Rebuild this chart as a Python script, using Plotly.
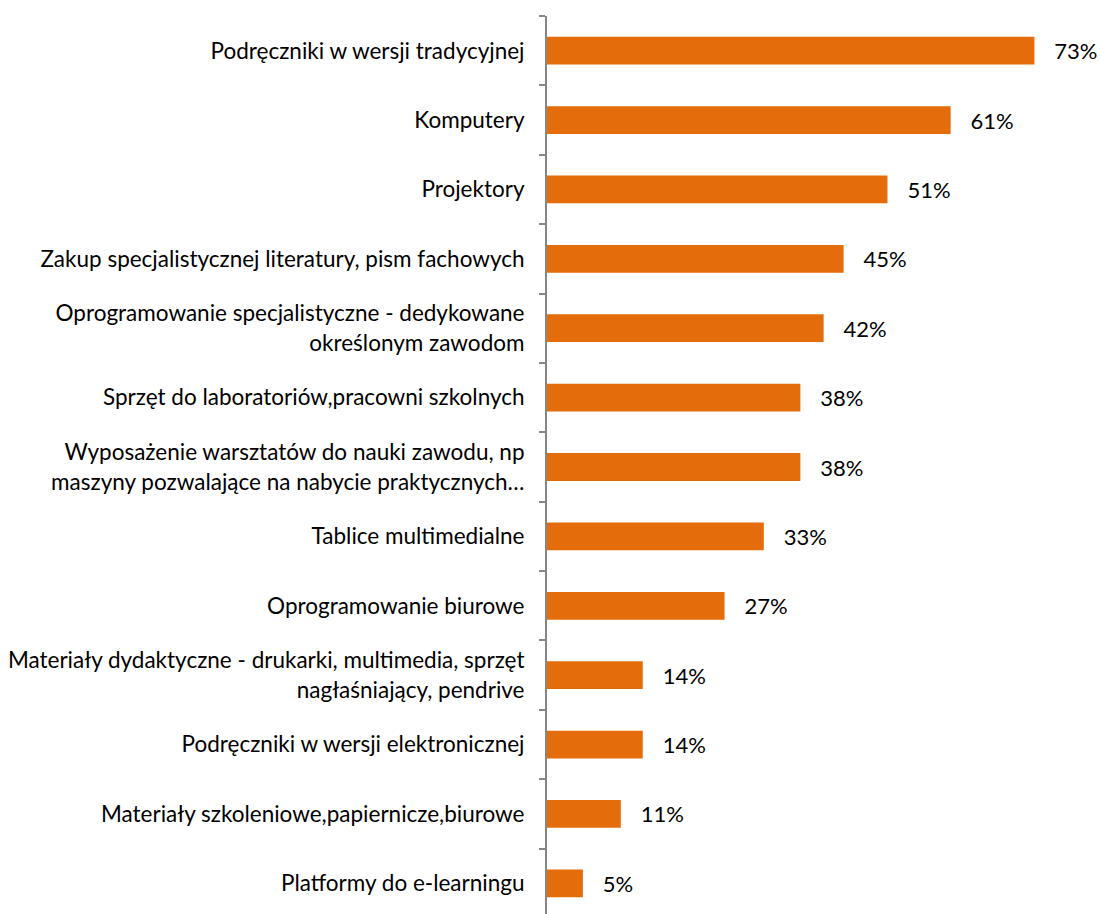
import plotly.graph_objects as go

categories = [
    "Podręczniki w wersji tradycyjnej",
    "Komputery",
    "Projektory",
    "Zakup specjalistycznej literatury, pism fachowych",
    "Oprogramowanie specjalistyczne - dedykowane<br>określonym zawodom",
    "Sprzęt do laboratoriów,pracowni szkolnych",
    "Wyposażenie warsztatów do nauki zawodu, np<br>maszyny pozwalające na nabycie praktycznych…",
    "Tablice multimedialne",
    "Oprogramowanie biurowe",
    "Materiały dydaktyczne - drukarki, multimedia, sprzęt<br>nagłaśniający, pendrive",
    "Podręczniki w wersji elektronicznej",
    "Materiały szkoleniowe,papiernicze,biurowe",
    "Platformy do e-learningu",
]
values = [73.3, 60.7, 51.2, 44.6, 41.6, 38.1, 38.1, 32.6, 26.7, 14.4, 14.4, 11.1, 5.4]

FONT = "Lato"
FS = 22.5
VS = 22

fig = go.Figure(
    go.Bar(
        x=values,
        y=categories,
        orientation="h",
        marker=dict(color="#E46C0A", line=dict(width=0)),
        width=0.4,
        texttemplate="\u00a0\u00a0\u00a0%{x:.0f}%",
        textposition="outside",
        constraintext="none",
        textfont=dict(family=FONT, size=VS, color="#000000"),
        cliponaxis=False,
    )
)

fig.update_layout(
    width=1100,
    height=918,
    margin=dict(l=547, r=21, t=16, b=0),
    paper_bgcolor="white",
    plot_bgcolor="white",
    showlegend=False,
    font=dict(family=FONT, size=FS, color="#000000"),
    xaxis=dict(range=[0, 80], visible=False),
    yaxis=dict(
        autorange="reversed",
        type="category",
        showline=True,
        linecolor="#868686",
        linewidth=2,
        ticks="outside",
        tickson="boundaries",
        ticklen=6,
        tickcolor="#868686",
        tickwidth=1.5,
        ticklabelstandoff=16,
        showgrid=False,
        automargin=False,
        tickfont=dict(family=FONT, size=FS, color="#000000"),
    ),
)

fig.write_html(
    "out.html",
    config={"displayModeBar": False},
    post_script="document.body.style.margin='0px';document.body.style.overflow='hidden';",
)
